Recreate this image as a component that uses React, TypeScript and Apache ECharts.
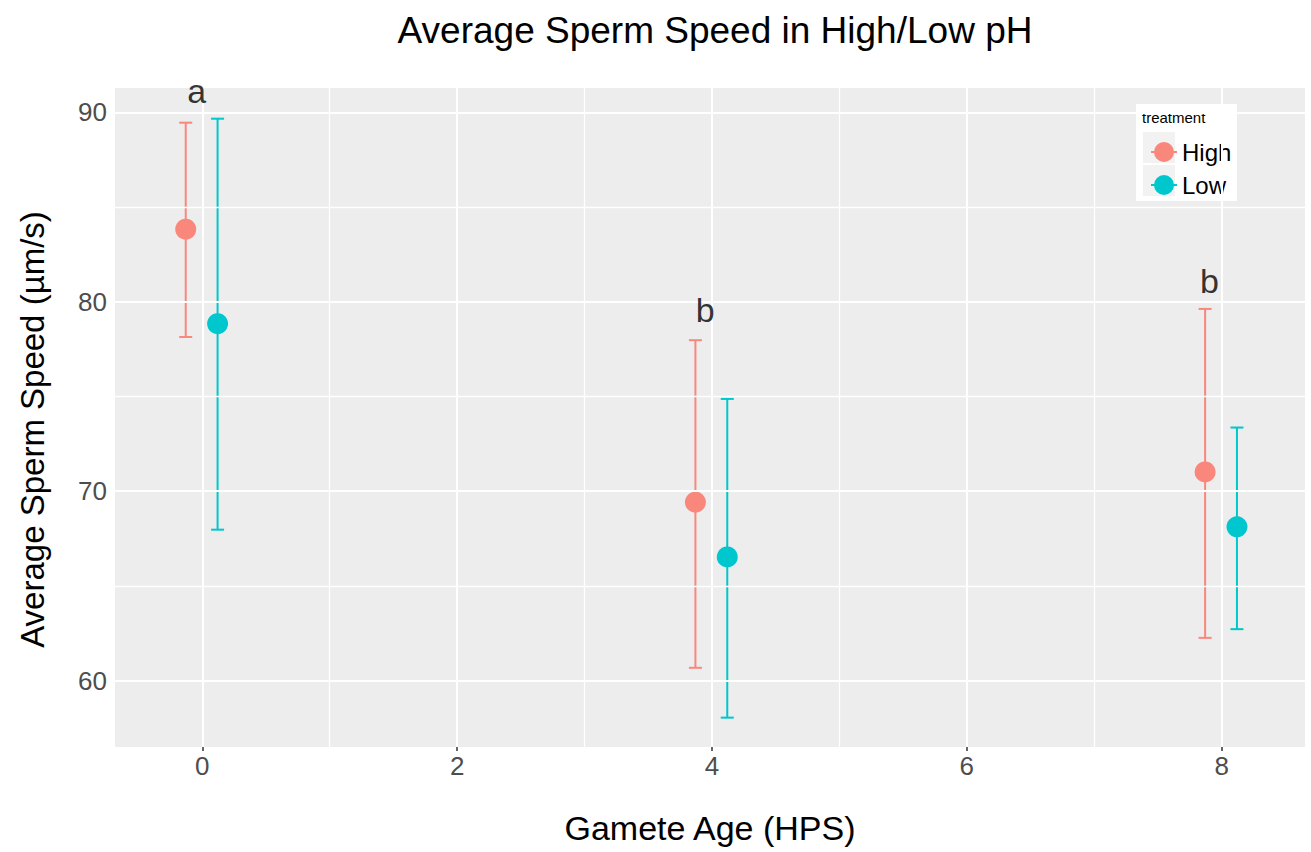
import React, { useEffect, useRef } from "react";
import * as echarts from "echarts";

const ages = [0, 4, 8];
const highMean = [83.83, 69.42, 71.02];
const highLower = [78.14, 60.68, 62.26];
const highUpper = [89.45, 77.97, 79.62];
const lowMean = [78.84, 66.53, 68.12];
const lowLower = [67.97, 58.05, 62.72];
const lowUpper = [89.66, 74.87, 73.36];
const letters = ["a", "b", "b"];
const letterX = [-0.044, 3.946, 7.904];
const letterY = [91.1, 79.57, 81.12];
const xTicks = [0, 2, 4, 6, 8];
const xMinor = [1, 3, 5, 7];
const yTicks = [60, 70, 80, 90];
const yMinor = [65, 75, 85];

const HIGH_COLOR = "#F9877C";
const LOW_COLOR = "#00C6CD";
const DODGE_HIGH = -0.13;
const DODGE_LOW = 0.12;
const FONT = "'Liberation Sans', Arial, sans-serif";

function errRender(color: string) {
  return (params: any, api: any) => {
    const x = api.value(0);
    const lo = api.value(1);
    const hi = api.value(2);
    const p1 = api.coord([x, hi]);
    const p2 = api.coord([x, lo]);
    const w = 6.5;
    const st = { stroke: color, lineWidth: 2 };
    return {
      type: "group",
      children: [
        { type: "line", shape: { x1: p1[0], y1: p1[1], x2: p2[0], y2: p2[1] }, style: st },
        { type: "line", shape: { x1: p1[0] - w, y1: p1[1], x2: p1[0] + w, y2: p1[1] }, style: st },
        { type: "line", shape: { x1: p2[0] - w, y1: p2[1], x2: p2[0] + w, y2: p2[1] }, style: st },
      ],
    };
  };
}

const legendIcon =
  "path://M-13,-0.9 L-9,-0.9 L-9,0.9 L-13,0.9 Z M9,-0.9 L13,-0.9 L13,0.9 L9,0.9 Z M-10,0 A10,10 0 1 1 10,0 A10,10 0 1 1 -10,0 Z";

export default function App() {
  const ref = useRef<HTMLDivElement>(null);
  useEffect(() => {
    if (!ref.current) return;
    const chart = echarts.init(ref.current, undefined, { renderer: "svg" });
    const gridLines: any[] = [
      ...xTicks.map((v) => ({ xAxis: v, lineStyle: { width: 2 } })),
      ...xMinor.map((v) => ({ xAxis: v, lineStyle: { width: 1.3 } })),
      ...yTicks.map((v) => ({ yAxis: v, lineStyle: { width: 2 } })),
      ...yMinor.map((v) => ({ yAxis: v, lineStyle: { width: 1.3 } })),
    ];
    chart.setOption({
      animation: false,
      backgroundColor: "#FFFFFF",
      title: {
        text: "Average Sperm Speed in High/Low pH",
        left: 710,
        top: 7,
        textAlign: "center",
        textStyle: { fontFamily: FONT, fontSize: 37, fontWeight: "normal", color: "#000" },
      },
      grid: {
        left: 115,
        top: 88,
        right: 6,
        bottom: 105,
        show: true,
        backgroundColor: "#EDEDED",
        borderWidth: 0,
      },
      xAxis: {
        type: "value",
        min: -0.685,
        max: 8.654,
        name: "Gamete Age (HPS)",
        nameLocation: "middle",
        nameGap: 64,
        nameTextStyle: { fontFamily: FONT, fontSize: 34, color: "#000" },
        axisLine: { show: false },
        axisTick: { show: true, customValues: xTicks, length: 4, lineStyle: { color: "#333", width: 1.5 } },
        axisLabel: { customValues: xTicks, fontFamily: FONT, fontSize: 26, color: "#4D4D4D", margin: 6 },
        splitLine: { show: false },
      },
      yAxis: {
        type: "value",
        min: 56.5,
        max: 91.28,
        name: "Average Sperm Speed (µm/s)",
        nameLocation: "middle",
        nameGap: 66,
        nameTextStyle: { fontFamily: FONT, fontSize: 33, color: "#000", padding: [0, 24, 0, 0] },
        axisLine: { show: false },
        axisTick: { show: true, customValues: yTicks, length: 4, lineStyle: { color: "#333", width: 1.5 } },
        axisLabel: { customValues: yTicks, fontFamily: FONT, fontSize: 26, color: "#4D4D4D", margin: 8 },
        splitLine: { show: false },
      },
      legend: {
        data: [
          { name: "High", icon: legendIcon },
          { name: "Low", icon: legendIcon },
        ],
        orient: "vertical",
        left: 1146,
        top: 135,
        itemWidth: 26,
        itemHeight: 20,
        itemGap: 9,
        selectedMode: false,
        textStyle: { fontFamily: FONT, fontSize: 24, color: "#000", lineHeight: 24 },
      },
      graphic: [
        { type: "rect", shape: { x: 1136, y: 104, width: 101, height: 97 }, style: { fill: "#FFFFFF" }, z: 0 },
        {
          type: "text",
          x: 1142,
          y: 110,
          style: { text: "treatment", fontFamily: FONT, fontSize: 15, fill: "#000" },
          z: 1,
        },
        { type: "rect", shape: { x: 1143, y: 132, width: 32, height: 31 }, style: { fill: "#F2F2F2" }, z: 1 },
        { type: "rect", shape: { x: 1143, y: 165, width: 32, height: 31 }, style: { fill: "#F2F2F2" }, z: 1 },
      ],
      series: [
        {
          type: "line",
          name: "grid",
          data: [],
          silent: true,
          z: 1,
          markLine: {
            silent: true,
            symbol: ["none", "none"],
            label: { show: false },
            lineStyle: { color: "#FFFFFF", type: "solid" },
            data: gridLines,
          },
        },
        {
          type: "custom",
          name: "High",
          z: 3,
          itemStyle: { color: HIGH_COLOR },
          renderItem: errRender(HIGH_COLOR),
          data: ages.map((a, i) => [a + DODGE_HIGH, highLower[i], highUpper[i]]),
        },
        {
          type: "custom",
          name: "Low",
          z: 3,
          itemStyle: { color: LOW_COLOR },
          renderItem: errRender(LOW_COLOR),
          data: ages.map((a, i) => [a + DODGE_LOW, lowLower[i], lowUpper[i]]),
        },
        {
          type: "scatter",
          name: "High",
          z: 4,
          symbolSize: 21,
          itemStyle: { color: HIGH_COLOR, opacity: 1 },
          data: ages.map((a, i) => [a + DODGE_HIGH, highMean[i]]),
        },
        {
          type: "scatter",
          name: "Low",
          z: 4,
          symbolSize: 21,
          itemStyle: { color: LOW_COLOR, opacity: 1 },
          data: ages.map((a, i) => [a + DODGE_LOW, lowMean[i]]),
        },
        {
          type: "scatter",
          name: "letters",
          z: 5,
          symbolSize: 0,
          silent: true,
          label: {
            show: true,
            position: "inside",
            formatter: (p: any) => letters[p.dataIndex],
            fontFamily: FONT,
            fontSize: 34,
            color: "#000000",
            textBorderWidth: 0,
          },
          data: letterX.map((x, i) => [x, letterY[i]]),
        },
      ],
    });
    return () => chart.dispose();
  }, []);
  return (
    <div
      ref={ref}
      style={{ position: "fixed", left: 0, top: 0, width: 1311, height: 852 }}
    />
  );
}
